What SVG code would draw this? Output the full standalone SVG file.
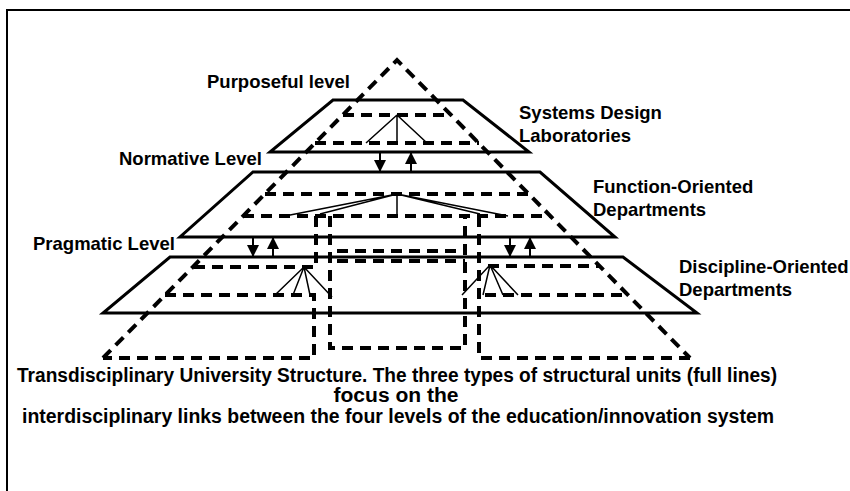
<svg xmlns="http://www.w3.org/2000/svg" width="850" height="491" viewBox="0 0 850 491">
<style>
.frame{fill:none;stroke:#000;stroke-width:2}
.unit{fill:none;stroke:#000;stroke-width:3;stroke-linejoin:miter}
.dash{fill:none;stroke:#000;stroke-width:4;stroke-dasharray:11 7}
.fork{fill:none;stroke:#000;stroke-width:1.5}
.arr{stroke:#000;stroke-width:2;marker-end:url(#ah)}
.lbl{font-family:"Liberation Sans",Arial,sans-serif;font-weight:bold;font-size:18.5px;fill:#000}
.cap{font-family:"Liberation Sans",Arial,sans-serif;font-weight:bold;font-size:20px;fill:#000}
</style>
<defs>
<marker id="ah" viewBox="0 0 12 12" refX="12" refY="6" markerWidth="12" markerHeight="12" markerUnits="userSpaceOnUse" orient="auto">
<path d="M0,0 L12,6 L0,12 z" fill="#000"/>
</marker>
</defs>
<rect class="frame" x="7" y="10" width="900" height="560"/>
<g id="dashed-structure">
<path class="dash" d="M103,358 L397,60 L690,358"/>
<path class="dash" d="M165,295 H314 V358 H103"/>
<path class="dash" d="M316,216 V267 H193"/>
<path class="dash" d="M690,358 H479 V216"/>
<path class="dash" d="M330,216 V348 H465 V216"/>
<path class="dash" d="M343,115 H451"/>
<path class="dash" d="M315,143 H479"/>
<path class="dash" d="M265,194 H529"/>
<path class="dash" d="M243,216 H550"/>
<path class="dash" d="M488,266 H600"/>
<path class="dash" d="M485,295 H628"/>
<path class="dash" d="M337,251 H460"/>
<path class="dash" d="M337,261 H465"/>
</g>
<g id="systems-design-laboratories">
<polygon class="unit" points="333,100 463,100 529,152 270,152"/>
</g>
<g id="function-oriented-departments">
<polygon class="unit" points="253,172 540,172 615,237 180,237"/>
</g>
<g id="discipline-oriented-departments">
<polygon class="unit" points="170,257 623,257 697,313 103,313"/>
</g>
<g id="connectors">
<path class="fork" d="M397,115 L366,143 M397,115 L397,143 M397,115 L427,143"/>
<path class="fork" d="M397,194 L285,216 M397,194 L320,214 M397,194 L397,216 M397,194 L480,214 M397,194 L508,216"/>
<path class="fork" d="M304,267 L275,295 M304,267 L293,295 M304,267 L310,295 M304,267 L332,297"/>
<path class="fork" d="M490,265 L462,295 M490,265 L483,295 M490,265 L503,295 M490,265 L518,295"/>
<line class="arr" x1="380" y1="152" x2="380" y2="172"/>
<line class="arr" x1="411" y1="172" x2="411" y2="152"/>
<line class="arr" x1="253" y1="237" x2="253" y2="257"/>
<line class="arr" x1="273" y1="257" x2="273" y2="237"/>
<line class="arr" x1="510" y1="237" x2="510" y2="257"/>
<line class="arr" x1="530" y1="257" x2="530" y2="237"/>
</g>
<g id="labels">
<text class="lbl" x="207" y="88">Purposeful level</text>
<text class="lbl" x="519" y="119">Systems Design</text>
<text class="lbl" x="519" y="142">Laboratories</text>
<text class="lbl" x="119" y="165">Normative Level</text>
<text class="lbl" x="593" y="193">Function-Oriented</text>
<text class="lbl" x="593" y="216">Departments</text>
<text class="lbl" x="33" y="250">Pragmatic Level</text>
<text class="lbl" x="679" y="273">Discipline-Oriented</text>
<text class="lbl" x="679" y="296">Departments</text>
</g>
<g id="caption">
<text class="cap" x="397" y="382" text-anchor="middle" textLength="760" lengthAdjust="spacingAndGlyphs">Transdisciplinary University Structure. The three types of structural units (full lines)</text>
<text class="cap" x="396" y="402" text-anchor="middle" textLength="125" lengthAdjust="spacingAndGlyphs">focus on the</text>
<text class="cap" x="398" y="423" text-anchor="middle" textLength="752" lengthAdjust="spacingAndGlyphs">interdisciplinary links between the four levels of the education/innovation system</text>
</g>
</svg>
